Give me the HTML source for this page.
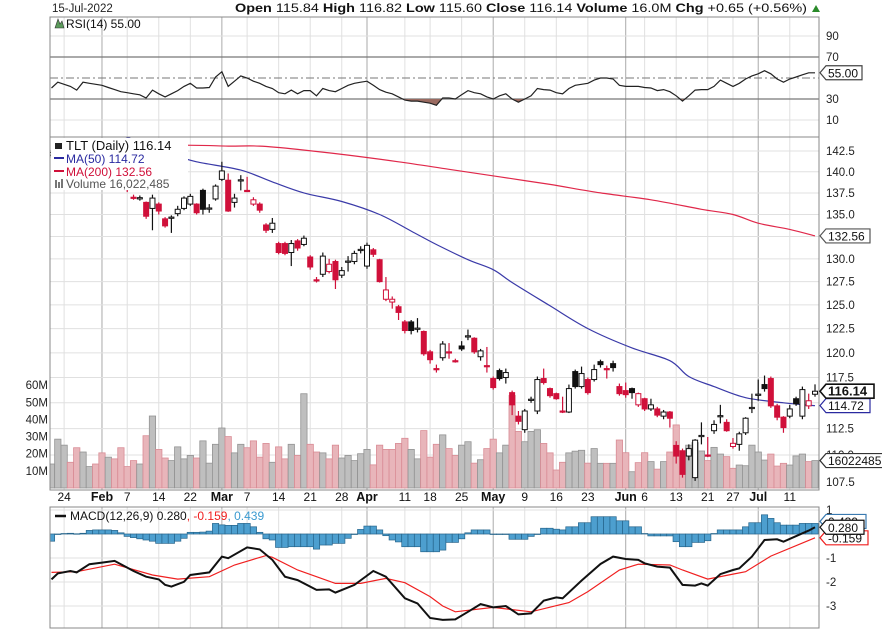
<!DOCTYPE html>
<html><head><meta charset="utf-8">
<style>
body{margin:0;background:#fff;}
svg{display:block;font-family:"Liberation Sans",sans-serif;}
</style></head>
<body>
<svg id="chart" width="882" height="630" viewBox="0 0 882 630" xmlns="http://www.w3.org/2000/svg">
<defs>
<clipPath id="pclip"><rect x="50" y="137" width="769" height="353"/></clipPath>
<clipPath id="rclip"><rect x="50" y="17" width="769" height="120"/></clipPath>
<clipPath id="rlow"><rect x="50" y="99" width="769" height="38"/></clipPath>
<clipPath id="mclip"><rect x="50" y="507" width="769" height="121"/></clipPath>
</defs>
<rect x="0" y="0" width="882" height="630" fill="#fff"/>
<text x="52" y="12" font-size="11.5" fill="#222">15-Jul-2022</text>
<text x="235" y="12" font-size="12" fill="#111" textLength="572" lengthAdjust="spacingAndGlyphs"><tspan font-weight="bold">Open</tspan> 115.84 <tspan font-weight="bold">High</tspan> 116.82 <tspan font-weight="bold">Low</tspan> 115.60 <tspan font-weight="bold">Close</tspan> 116.14 <tspan font-weight="bold">Volume</tspan> 16.0M <tspan font-weight="bold">Chg</tspan> +0.65 (+0.56%)</text>
<polygon points="812,12 820,12 816,5" fill="#2a8a2a"/>
<g id="grid"></g>
<g id="rsi"></g>
<g id="price"></g>
<g id="macd"></g>
<g id="axes"></g>
</svg>
<script>
// ---- data ----
const opens=[142.0,142.5,142.0,142.8,142.5,141.0,141.3,141.8,141.0,140.6,140.2,139.2,138.5,
137.0,136.8,136.4,135.7,136.2,134.5,134.6,135.1,135.7,136.2,136.2,137.8,135.7,136.8,139.1,139.0,136.4,139.0,137.8,136.2,136.2,133.8,133.3,131.7,131.7,130.7,132.0,131.6,130.2,127.7,128.3,128.6,129.7,128.2,129.7,129.7,131.0,129.2,131.0,129.9,125.6,125.3,124.8,123.2,123.2,122.5,122.2,120.1,118.4,119.5,120.1,119.2,120.7,121.7,121.5,119.6,118.7,117.4,118.2,117.5,116.0,113.7,112.4,115.3,114.2,117.4,116.4,115.9,114.2,114.1,118.1,116.6,117.3,117.3,119.1,118.4,118.9,116.6,116.2,116.4,114.8,115.4,114.4,114.4,113.7,114.1,110.9,110.4,109.9,107.9,111.8,110.0,112.3,113.7,113.1,110.8,111.0,112.1,114.5,115.8,116.8,117.4,114.7,113.6,113.7,115.4,113.7,114.7,115.84];
const closes=[142.3,142.9,143.2,141.9,141.3,141.6,142.0,141.1,140.5,141.0,139.4,138.6,137.9,
136.9,136.95,134.8,136.9,135.4,133.7,134.7,135.6,136.9,137.1,135.2,135.6,135.75,138.3,140.1,135.4,136.9,139.05,137.75,136.7,135.5,133.2,134.0,130.7,130.6,131.7,131.2,132.3,129.1,127.65,130.3,129.4,127.7,128.7,129.75,130.6,131.05,131.5,130.5,127.5,126.6,125.6,124.2,122.3,122.3,122.55,119.9,119.3,118.35,120.9,120.05,119.15,120.4,121.75,120.1,120.2,118.65,116.5,117.4,118.0,114.8,113.2,114.2,115.35,117.3,117.0,115.7,115.4,114.15,116.4,116.6,117.9,116.0,118.3,118.8,118.35,118.5,115.9,115.8,116.0,115.9,114.4,114.8,113.8,114.1,113.5,109.9,108.2,110.6,111.4,111.85,109.95,112.9,113.75,112.3,111.1,112.0,113.5,114.55,115.85,116.4,114.7,113.6,112.6,114.4,114.9,116.3,115.2,116.14];
const highs=[142.6,143.1,143.5,143.0,142.7,141.9,142.3,142.0,141.2,141.3,140.4,139.4,138.7,
137.3,137.2,136.5,137.3,136.4,134.7,134.9,136.0,137.1,137.4,136.3,138.0,136.2,138.5,141.2,139.8,137.4,139.6,139.4,137.0,136.4,134.0,134.6,131.9,131.9,132.1,132.2,132.6,130.4,128.0,130.7,130.0,129.9,129.1,130.3,130.9,131.4,131.8,131.2,130.0,128.0,125.9,125.0,123.4,123.4,123.6,122.3,120.3,118.8,121.2,121.0,119.4,121.2,122.4,121.6,120.4,120.6,117.6,118.4,118.4,116.2,114.2,114.4,115.6,117.6,118.4,116.5,116.0,115.6,116.8,118.3,118.6,117.5,118.8,119.3,118.7,119.2,116.9,117.0,116.5,116.0,115.5,115.4,114.6,114.3,114.2,111.3,110.6,111.0,111.5,113.1,111.7,113.3,114.8,113.4,111.6,112.2,113.6,115.9,117.3,117.7,117.6,114.9,113.7,114.8,115.6,116.6,115.9,116.82];
const lows=[141.7,142.2,141.8,141.6,141.0,140.8,141.0,140.9,140.2,140.3,139.2,138.4,137.6,
136.7,136.6,134.5,133.2,135.0,133.5,132.9,134.8,135.5,136.0,135.0,135.0,135.2,136.6,138.9,135.3,135.8,137.8,137.6,136.0,135.2,132.9,132.9,130.5,130.4,129.2,130.9,131.4,128.8,127.4,128.0,128.4,126.7,127.9,128.6,129.4,130.6,128.9,130.2,127.4,125.4,124.6,123.4,122.0,121.9,122.1,119.7,118.9,118.0,119.2,119.4,119.0,120.2,121.3,119.9,119.2,118.0,116.3,117.2,116.9,113.8,112.9,112.1,115.0,113.9,116.8,115.5,115.3,114.0,114.0,116.4,116.4,115.8,117.1,118.5,117.4,118.1,115.7,115.5,115.4,114.6,114.2,114.2,113.6,113.4,112.6,109.2,107.9,109.5,107.6,111.0,109.8,112.0,113.0,112.2,110.6,110.4,111.9,114.0,115.2,116.1,114.5,113.3,112.1,113.5,114.7,113.4,114.4,115.60];
const volumes=[14,28.5,25,15,23.5,21,12.5,14,20.5,18,17,23.5,12.5,16,14,30.5,42,22.5,17.5,16,24,17,19,17.5,27.5,14.5,25.5,35,30,20.5,25.5,23.5,27.5,18,26,15,24,17,25.5,19,55,25.5,21,20.5,17,25,17.5,19,16,20,22.5,13.5,25,22.5,22.5,26,29,22.5,17,33.5,18,25.5,
31,23,19,25,27,14.5,16.5,23,28.5,20.5,25,54,33,27,33,34,26,20.5,10.5,15,20.5,21.5,22,14.5,23,14.4,14.4,14.4,28,20.6,9.5,14.8,20.6,15.4,11,15.4,21,36.8,12.5,25,26.5,21.6,16,23.7,19.8,18.3,11.5,13.4,13,25,21,16.3,19.8,12.8,14.4,13.4,18.7,19.8,15.4,16.0];
const rsiValues=[40.5,46,44,42,38.5,46,45,44,43,41,39,37,36,35,34,31,38.5,35,32,35,38,42,45,40.5,40.5,41,51,56,42,47,52,50,47,45,42,40,36,35,38.5,35,38,38,33,40,38,37,40,43,45,46,47,43,39,36.5,35,32,29,28,28,27,26,24,31,31,30,34,38,36,35,32,30,33,35,30,27,30,33,40,39,38.5,36,35,40,43,44,45,48,50,50,49,43,42,42,42,41,40.5,38,39,37,33,28,33,38.5,39,39,42,48,45,42,45,49,52,54,57,54,49,46,49,51,53,55,55];
const ma50Idx=[10,13,19,23,30,35,40,46,52,57,61,66,70,73,79,85,92,98,101,105,110,116,121];
const ma50Val=[144.6,143.9,142.1,141.2,140.2,138.8,137.5,136.5,135.0,133.1,131.6,129.9,128.8,127.4,124.9,122.5,120.5,119.2,117.6,116.6,115.5,115.0,114.72];
const ma200Idx=[0,21,28,33,39,47,55,63,71,79,87,95,103,108,112,117,121];
const ma200Val=[143.3,143.2,143.1,143.1,142.7,142.0,141.2,140.3,139.4,138.5,137.5,136.7,135.6,135.0,134.0,133.3,132.56];
const macdIdx=[0,1,3,4,6,8,10,11,13,15,17,18,19,21,22,25,27,28,31,33,35,37,39,42,44,45,48,51,53,56,58,60,62,64,66,68,70,72,74,76,78,80,81,84,87,89,91,93,94,96,98,100,102,103,104,106,108,109,111,113,115,116,119,120,121];
const macdVal=[-1.89,-1.64,-1.54,-1.6,-1.26,-1.19,-1.12,-1.26,-1.54,-1.78,-1.89,-2.12,-2.19,-1.99,-1.71,-1.6,-0.94,-1.01,-0.56,-0.64,-1.08,-1.78,-1.92,-2.33,-2.31,-2.44,-2.12,-1.54,-1.78,-2.68,-2.89,-3.5,-3.58,-3.56,-3.24,-2.92,-3.06,-3.0,-3.35,-3.31,-2.78,-2.64,-2.68,-1.94,-1.25,-0.94,-1.04,-1.08,-1.22,-1.36,-1.40,-2.12,-2.15,-2.06,-2.15,-1.67,-1.5,-1.43,-0.94,-0.25,-0.22,-0.32,0.03,0.14,0.28];
const sigIdx=[0,4,10,16,20,25,29,34,35,39,45,49,53,56,60,62,64,70,76,82,85,90,93,98,100,104,108,110,114,121];
const sigVal=[-1.6,-1.57,-1.26,-1.71,-1.88,-1.78,-1.29,-0.9,-0.97,-1.5,-2.06,-2.06,-1.85,-2.03,-2.61,-3.0,-3.24,-3.06,-3.24,-2.86,-2.4,-1.5,-1.26,-1.29,-1.5,-1.88,-1.67,-1.57,-0.92,-0.159];
const histVal=[-0.3,0,0.02,0.03,0.01,0.03,0.15,0.17,0.17,0.17,0.15,0.05,-0.1,-0.15,-0.2,-0.25,-0.3,-0.39,-0.39,-0.39,-0.3,-0.18,0.07,0.07,0.08,0.12,0.44,0.38,0.36,0.36,0.44,0.44,0.3,0.07,-0.2,-0.25,-0.56,-0.56,-0.53,-0.53,-0.53,-0.53,-0.63,-0.46,-0.46,-0.39,-0.39,-0.18,0,0.19,0.33,0.33,0.17,-0.07,-0.25,-0.33,-0.53,-0.53,-0.53,-0.74,-0.74,-0.74,
-0.67,-0.35,-0.35,-0.2,0.05,0.17,0.17,0.17,0,0,0,-0.22,-0.22,-0.22,-0.1,0,0.24,0.24,0.2,0.17,0.3,0.3,0.47,0.47,0.72,0.72,0.72,0.72,0.55,0.55,0.3,0.3,0.02,-0.08,-0.08,-0.08,-0.08,-0.32,-0.53,-0.53,-0.35,-0.35,-0.28,0.02,0.17,0.17,0.17,0.17,0.3,0.47,0.47,0.8,0.65,0.47,0.37,0.37,0.37,0.44,0.44,0.44];
const priceTicks=[142.5,140.0,137.5,135.0,132.5,130.0,127.5,125.0,122.5,120.0,117.5,115.0,112.5,110.0,107.5];
const volTicks=[60,50,40,30,20,10];
const volTickLabels=["60M","50M","40M","30M","20M","10M"];
const rsiTicks=[90,70,30,10];
const macdTicks=[1,-1,-2,-3];
const dateIdx=[2,8,12,17,22,27,31,36,41,46,50,56,60,65,70,75,80,85,91,94,99,104,108,112,117];
const dateLabels=["24","Feb","7","14","22","Mar","7","14","21","28","Apr","11","18","25","May","9","16","23","Jun","6","13","21","27","Jul","11"];
const monthStart=[false,true,false,false,false,true,false,false,false,false,true,false,false,false,true,false,false,false,true,false,false,false,false,true,false];

// ---- scales ----
const NS="http://www.w3.org/2000/svg";
const L=50,R=819;
function X(i){return 51.5+6.31*i;}
const lnTop=Math.log(142.5),lnBot=Math.log(107.5);
function PY(p){return 151+(lnTop-Math.log(p))/(lnTop-lnBot)*331;}
function VY(v){return 488-v*1.714;}
function RY(v){return 57+(70-v)*1.05;}
function MY(v){return 534-v*24;}
function mk(parent,tag,attrs){const e=document.createElementNS(NS,tag);for(const k in attrs)e.setAttribute(k,attrs[k]);parent.appendChild(e);return e;}
const gGrid=document.getElementById('grid'),gR=document.getElementById('rsi'),gP=document.getElementById('price'),gM=document.getElementById('macd'),gA=document.getElementById('axes');

dateIdx.forEach((d,k)=>{
  const x=X(d);
  [[17,137],[137,490],[507,628]].forEach(([a,b])=>{
    const ln=mk(gGrid,'line',{x1:x,x2:x,y1:a,y2:b,stroke:monthStart[k]?'#aaa':'#e0e0e0','stroke-width':1});
    
    
  });
  const t=mk(gA,'text',{x:x,y:501,'text-anchor':'middle','font-size':monthStart[k]?12.5:12,'font-weight':monthStart[k]?'bold':'normal',fill:'#111'});
  t.textContent=dateLabels[k];
  
  
});

// ---- RSI panel ----
[10,90].forEach(v=>{const l=mk(gR,'line',{x1:L,x2:R,y1:RY(v),y2:RY(v),stroke:'#e0e0e0'});});
[70,30].forEach(v=>{const l=mk(gR,'line',{x1:L,x2:R,y1:RY(v),y2:RY(v),stroke:'#777','stroke-width':1.3});});
{const l=mk(gR,'line',{x1:L,x2:R,y1:RY(50),y2:RY(50),stroke:'#777','stroke-dasharray':'8,3,2,3'});}
let rp=rsiValues.map((v,i)=>X(i).toFixed(1)+','+RY(v).toFixed(1));
{const a=mk(gR,'polygon',{points:rp.join(' ')+' '+X(rsiValues.length-1)+','+RY(30)+' '+X(0)+','+RY(30),fill:'#9a6a60','clip-path':'url(#rlow)'});}
{const p=mk(gR,'polyline',{points:rp.join(' '),fill:'none',stroke:'#222','stroke-width':1.2,'clip-path':'url(#rclip)'});}
{const b=mk(gR,'rect',{x:L,y:17,width:R-L,height:120,fill:'none',stroke:'#888'});}
rsiTicks.forEach(v=>{const t=mk(gA,'text',{x:826,y:RY(v)+4,'font-size':11.5,fill:'#222'});t.textContent=v;});
{const lg=mk(gR,'text',{x:66,y:28,'font-size':12,fill:'#111'});lg.textContent='RSI(14) 55.00';
 const ic=mk(gR,'polygon',{points:'55,28 58,19 60,24 62,21 64,28',fill:'#5a9a5a',stroke:'#333','stroke-width':0.6});}

// ---- price panel ----
priceTicks.forEach(p=>{const l=mk(gP,'line',{x1:L,x2:R,y1:PY(p),y2:PY(p),stroke:'#e0e0e0'});
 const t=mk(gA,'text',{x:826,y:PY(p)+4,'font-size':11.5,fill:'#222'});t.textContent=p.toFixed(1);});
const pc=mk(gP,'g',{'clip-path':'url(#pclip)'});
volumes.forEach((v,i)=>{
  const down=i>0&&closes[i]<closes[i-1];
  const r=mk(pc,'rect',{x:X(i)-3.15,y:VY(v),width:6.31,height:488-VY(v),fill:down?'#e8b5ba':'#bfbfbf',stroke:down?'#d98c95':'#939393','stroke-width':0.8});
  
  
});
function path(idx,val,f){return idx.map((d,k)=>(k?'L':'M')+X(d).toFixed(1)+','+f(val[k]).toFixed(1)).join(' ');}
function smooth(idx,val,f){
  const P=idx.map((d,k)=>[X(d),f(val[k])]);
  let s='M'+P[0][0].toFixed(1)+','+P[0][1].toFixed(1);
  for(let k=0;k<P.length-1;k++){
    const p0=P[Math.max(k-1,0)],p1=P[k],p2=P[k+1],p3=P[Math.min(k+2,P.length-1)];
    const c1=[p1[0]+(p2[0]-p0[0])/6,p1[1]+(p2[1]-p0[1])/6];
    const c2=[p2[0]-(p3[0]-p1[0])/6,p2[1]-(p3[1]-p1[1])/6];
    s+=' C'+c1[0].toFixed(1)+','+c1[1].toFixed(1)+' '+c2[0].toFixed(1)+','+c2[1].toFixed(1)+' '+p2[0].toFixed(1)+','+p2[1].toFixed(1);
  }
  return s;
}
{const m=mk(pc,'path',{d:smooth(ma200Idx,ma200Val,PY),fill:'none',stroke:'#e0284a','stroke-width':1.2});}
{const m=mk(pc,'path',{d:smooth(ma50Idx,ma50Val,PY),fill:'none',stroke:'#3a3aa8','stroke-width':1.2});}
opens.forEach((o,i)=>{
  const c=closes[i],x=X(i);
  const down=i>0&&c<closes[i-1];
  const col=down?'#d0103a':'#111';
  const w=mk(pc,'line',{x1:x,x2:x,y1:PY(highs[i]),y2:PY(lows[i]),stroke:col,'stroke-width':1.2});
  
  
  const top=PY(Math.max(o,c)),bot=PY(Math.min(o,c));
  const h=Math.max(bot-top,1.2);
  const filled=c<o;
  const b=mk(pc,'rect',{x:x-2.5,y:top,width:5,height:h,fill:filled?col:'#fff',stroke:col,'stroke-width':1});
  
  
});
{const b=mk(gP,'rect',{x:L,y:137,width:R-L,height:353,fill:'none',stroke:'#888'});}
volTicks.forEach((v,k)=>{const t=mk(gA,'text',{x:48,y:VY(v)+4,'text-anchor':'end','font-size':11.5,fill:'#222'});t.textContent=volTickLabels[k];});
{const lg=mk(gP,'g',{});
 mk(lg,'rect',{x:51,y:138,width:137,height:52,fill:'#fff'});
 const rows=[['TLT (Daily) 116.14','#111',13,150],['MA(50) 114.72','#2a2aa0',12,163],['MA(200) 132.56','#d0103a',12,176],['Volume 16,022,485','#555',12,188]];
 rows.forEach((r,k)=>{const t=mk(lg,'text',{x:66,y:r[3],'font-size':r[2],fill:r[1]});t.textContent=r[0];});
 mk(lg,'rect',{x:55,y:143,width:7,height:6,fill:'#222'});
 mk(lg,'line',{x1:54,x2:64,y1:158,y2:158,stroke:'#2a2aa0','stroke-width':2});
 mk(lg,'line',{x1:54,x2:64,y1:171,y2:171,stroke:'#d0103a','stroke-width':2});
 mk(lg,'rect',{x:55,y:180,width:2,height:8,fill:'#777'});mk(lg,'rect',{x:58,y:182,width:2,height:6,fill:'#777'});mk(lg,'rect',{x:61,y:179,width:2,height:9,fill:'#777'});
}

// ---- MACD panel ----
macdTicks.concat([0]).forEach(v=>{const l=mk(gM,'line',{x1:L,x2:R,y1:MY(v),y2:MY(v),stroke:'#e0e0e0'});});
macdTicks.forEach(v=>{const t=mk(gA,'text',{x:826,y:MY(v)+4,'font-size':11.5,fill:'#222'});t.textContent=v;});
const mc=mk(gM,'g',{'clip-path':'url(#mclip)'});
histVal.forEach((v,i)=>{
  const y0=MY(0),y1=MY(v);
  const r=mk(mc,'rect',{x:X(i)-3.15,y:Math.min(y0,y1),width:6.31,height:Math.max(Math.abs(y1-y0),0.5),fill:'#4d9fcf',stroke:'#26658c','stroke-width':0.7});
  
  
});
{const s=mk(mc,'path',{d:path(sigIdx,sigVal,MY),fill:'none',stroke:'#f02020','stroke-width':1.2});}
{const m=mk(mc,'path',{d:path(macdIdx,macdVal,MY),fill:'none',stroke:'#111','stroke-width':2});}
{const b=mk(gM,'rect',{x:L,y:507,width:R-L,height:121,fill:'none',stroke:'#888'});}
{const lg=mk(gM,'text',{x:70,y:520,'font-size':12,fill:'#111'});lg.innerHTML='MACD(12,26,9) 0.280<tspan fill="#f02020">, -0.159</tspan><tspan fill="#3a9ad0">, 0.439</tspan>';
 const ln=mk(gM,'line',{x1:55,x2:66,y1:516,y2:516,stroke:'#111','stroke-width':2.5});}

// ---- value tags ----
function tag(y,txt,col,bold,name,w){
  const g=mk(gA,'g',{});
  
  
  mk(g,'polygon',{points:`820,${y} 826,${y-7} ${826+w},${y-7} ${826+w},${y+7} 826,${y+7}`,fill:'#fff',stroke:col,'stroke-width':bold?1.6:1.2});
  const t=mk(g,'text',{x:828,y:y+4.5,'font-size':bold?13:12,'font-weight':bold?'bold':'normal',fill:'#111'});t.textContent=txt;
}
tag(RY(rsiValues[rsiValues.length-1]),'55.00','#444',false,'rsi-value-tag',36);
tag(PY(ma200Val[ma200Val.length-1]),'132.56','#555',false,'ma200-value-tag',44);
tag(MY(histVal[histVal.length-1])-2,'0.439','#3a7ab0',false,'macd-hist-value-tag',40);
tag(VY(volumes[volumes.length-1]),'16022485','#333',false,'volume-value-tag',62);
tag(PY(ma50Val[ma50Val.length-1]),'114.72','#2a2aa0',false,'ma50-value-tag',44);
tag(PY(closes[closes.length-1]),'116.14','#111',true,'close-value-tag',48);
tag(MY(sigVal[sigVal.length-1]),'-0.159','#f02020',false,'macd-signal-value-tag',42);
tag(MY(macdVal[macdVal.length-1]),'0.280','#111',false,'macd-value-tag',38);
</script>
</body></html>
